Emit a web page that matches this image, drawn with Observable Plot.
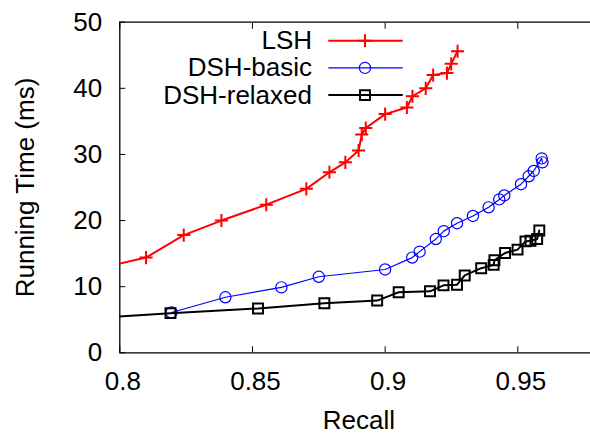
<!DOCTYPE html>
<html>
<head>
<meta charset="utf-8">
<script src="https://cdn.jsdelivr.net/npm/d3@7"></script>
<script src="https://cdn.jsdelivr.net/npm/@observablehq/plot@0.6"></script>
<style>
  html, body { margin: 0; padding: 0; background: #fff; }
  #chart svg { display: block; }
</style>
</head>
<body>
<div id="chart"></div>
<script>
// ---- data ----
const seriesNames = ["LSH", "DSH-basic", "DSH-relaxed"];
const seriesColors = ["#ff0000", "#0000ff", "#000000"];
const xTicks = [0.8, 0.85, 0.9, 0.95];
const yTicks = [0, 10, 20, 30, 40, 50];
const xLabel = "Recall";
const yLabel = "Running Time (ms)";

const lshRecall = [0.79, 0.8099, 0.8241, 0.8383, 0.8552, 0.8703, 0.8790, 0.8850, 0.8900, 0.8912, 0.8927, 0.9000, 0.9082, 0.9103, 0.9153, 0.9181, 0.9233, 0.9249, 0.9273];
const lshTime   = [12.6, 14.4, 17.8, 20.0, 22.4, 24.8, 27.3, 28.8, 30.6, 33.0, 34.0, 36.1, 37.1, 38.8, 40.0, 42.0, 42.3, 43.7, 45.6];

const basicRecall = [0.8195, 0.8398, 0.8609, 0.8750, 0.9000, 0.9102, 0.9130, 0.9191, 0.9221, 0.9271, 0.9331, 0.9390, 0.9430, 0.9449, 0.9512, 0.9541, 0.9560, 0.9590, 0.9593];
const basicTime   = [6.1, 8.4, 9.9, 11.5, 12.6, 14.4, 15.3, 17.2, 18.4, 19.6, 20.7, 22.0, 23.2, 23.8, 25.5, 26.7, 27.5, 29.4, 28.8];

const relaxedRecall = [0.79, 0.8191, 0.8521, 0.8771, 0.8970, 0.9051, 0.9169, 0.9220, 0.9271, 0.9300, 0.9362, 0.9409, 0.9412, 0.9452, 0.9499, 0.9529, 0.9548, 0.9573, 0.9581];
const relaxedTime   = [5.25, 6.0, 6.7, 7.5, 7.9, 9.15, 9.3, 10.2, 10.3, 11.7, 12.8, 13.3, 14.0, 15.1, 15.6, 16.85, 16.95, 17.2, 18.5];

// ---- build tables ----
const toRows = (xs, ys, s) => xs.map((x, i) => ({recall: x, time: ys[i], series: s}));
const lsh = toRows(lshRecall, lshTime, seriesNames[0]);
const basic = toRows(basicRecall, basicTime, seriesNames[1]);
const relaxed = toRows(relaxedRecall, relaxedTime, seriesNames[2]);

const font = "'Liberation Sans', Arial, Helvetica, sans-serif";
const fmt = d => String(d);

const plot = Plot.plot({
  width: 590,
  height: 434,
  marginTop: 21.7,
  marginRight: 0,
  marginBottom: 81.7,
  marginLeft: 119.3,
  style: {fontFamily: font, fontSize: "26px", color: "#000", background: "#fff", overflow: "visible"},
  x: {domain: [0.8, 0.9774]},
  y: {domain: [0, 50]},
  marks: [
    // frame (left, bottom, top); right edge lies outside the picture
    Plot.ruleX([xTicks[0]], {stroke: "#000", strokeWidth: 1.3}),
    Plot.ruleY([yTicks[0], yTicks[yTicks.length - 1]], {stroke: "#000", strokeWidth: 1.3}),
    // inward ticks
    Plot.axisX(xTicks, {anchor: "bottom", tickSize: 6, dy: -6, fill: "none", label: null, stroke: "#000"}),
    Plot.axisX(xTicks, {anchor: "top", tickSize: 6, dy: 6, fill: "none", label: null, stroke: "#000"}),
    Plot.axisY(yTicks, {anchor: "left", tickSize: 6, dx: 6, fill: "none", label: null, stroke: "#000"}),
    // tick labels
    Plot.axisX(xTicks, {anchor: "bottom", tickSize: 0, tickPadding: 19, dx: 3, label: null, tickFormat: fmt, fontSize: 26, fill: "#000"}),
    Plot.axisY(yTicks, {anchor: "left", tickSize: 0, tickPadding: 17.6, label: null, tickFormat: fmt, fontSize: 26, fill: "#000"}),
    // axis titles
    Plot.text([xLabel], {text: d => d, frameAnchor: "bottom", textAnchor: "middle", lineAnchor: "middle", dy: 67.6, dx: 3.7, fontSize: 26, fill: "#000"}),
    Plot.text([yLabel], {text: d => d, frameAnchor: "left", textAnchor: "middle", lineAnchor: "middle", rotate: -90, dx: -94.6, fontSize: 26, fill: "#000"}),
    // series
    Plot.line(lsh, {x: "recall", y: "time", stroke: seriesColors[0], strokeWidth: 2, clip: true}),
    Plot.dot(lsh, {x: "recall", y: "time", symbol: "plus", r: 4.3, stroke: seriesColors[0], strokeWidth: 2, fill: "none", clip: true}),
    Plot.line(basic, {x: "recall", y: "time", stroke: seriesColors[1], strokeWidth: 1.2, clip: true}),
    Plot.dot(basic, {x: "recall", y: "time", symbol: "circle", r: 5.6, stroke: seriesColors[1], strokeWidth: 1.2, fill: "none", clip: true}),
    Plot.line(relaxed, {x: "recall", y: "time", stroke: seriesColors[2], strokeWidth: 2, clip: true}),
    Plot.dot(relaxed, {x: "recall", y: "time", symbol: "square", r: 5.6, stroke: seriesColors[2], strokeWidth: 2, fill: "none", clip: true})
  ]
});

document.getElementById("chart").appendChild(plot);

// ---- legend inside the plot area (upper left), gnuplot style ----
const legendSymbols = [d3.symbolPlus, d3.symbolCircle, d3.symbolSquare];
const legendSizes = [Math.PI * 4.3 * 4.3, Math.PI * 5.6 * 5.6, Math.PI * 5.6 * 5.6];
const legendWidths = [2, 1.2, 2];
const svg = d3.select(plot);
const lg = svg.append("g").attr("font-family", font).attr("font-size", 26);
seriesNames.forEach((name, i) => {
  const yRow = 40.7 + i * 27.2;
  lg.append("text")
    .attr("x", 312).attr("y", yRow).attr("dy", "0.33em")
    .attr("text-anchor", "end").attr("fill", "#000").text(name);
  lg.append("line")
    .attr("x1", 328.3).attr("x2", 402.7).attr("y1", yRow).attr("y2", yRow)
    .attr("stroke", seriesColors[i]).attr("stroke-width", legendWidths[i]);
  lg.append("path")
    .attr("transform", `translate(365,${yRow})`)
    .attr("d", d3.symbol(legendSymbols[i], legendSizes[i])())
    .attr("fill", "none").attr("stroke", seriesColors[i]).attr("stroke-width", legendWidths[i]);
});
</script>
</body>
</html>
